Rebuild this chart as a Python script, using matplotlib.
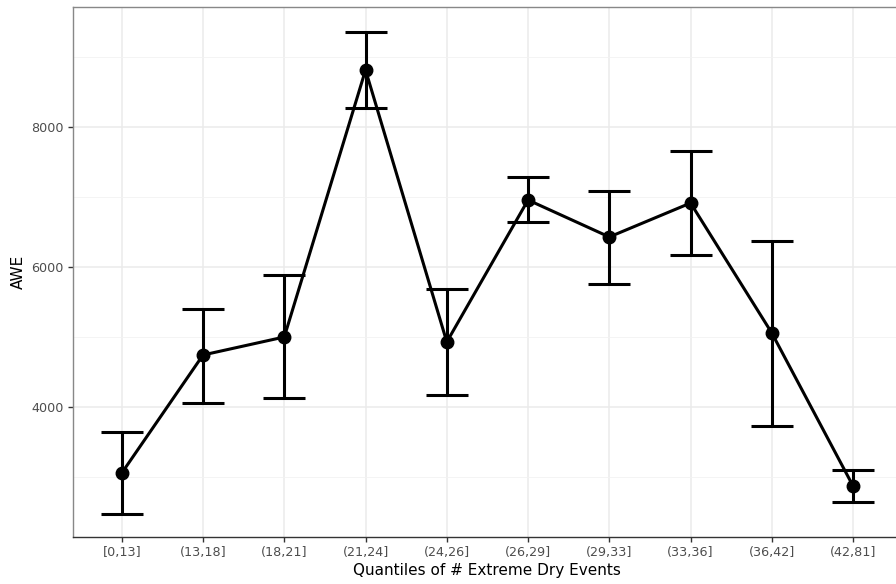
import matplotlib
matplotlib.use("Agg")
from matplotlib import pyplot as plt
from matplotlib.ticker import MultipleLocator

categories = ['[0,13]', '(13,18]', '(18,21]', '(21,24]', '(24,26]',
              '(26,29]', '(29,33]', '(33,36]', '(36,42]', '(42,81]']
awe_mean = [3057, 4743, 5000, 8814, 4929, 6957, 6429, 6914, 5057, 2871]
awe_upper = [3643, 5400, 5886, 9357, 5686, 7286, 7086, 7657, 6371, 3100]
awe_lower = [2471, 4057, 4129, 8271, 4171, 6643, 5757, 6171, 3729, 2643]

x = list(range(1, len(categories) + 1))
err_lo = [m - l for m, l in zip(awe_mean, awe_lower)]
err_hi = [u - m for m, u in zip(awe_mean, awe_upper)]

fig = plt.figure(figsize=(8.96, 5.84), dpi=100)
ax = fig.add_axes([0.0815, 0.0805, 0.925, 0.9075])

ax.errorbar(x, awe_mean, yerr=[err_lo, err_hi], fmt='none', ecolor='black',
            elinewidth=2.2, capsize=14.8, capthick=2.2, zorder=3)
ax.plot(x, awe_mean, color='black', lw=2.2, zorder=4)
ax.plot(x, awe_mean, 'o', color='black', ms=9, zorder=5)

ax.set_xlim(0.4, 10.6)
ax.set_ylim(2143, 9714)
ax.set_xticks(x)
ax.set_xticklabels(categories)
ax.yaxis.set_major_locator(MultipleLocator(2000))
ax.yaxis.set_minor_locator(MultipleLocator(1000))

ax.grid(which='major', color='#ebebeb', lw=1.1, zorder=0)
ax.grid(which='minor', axis='y', color='#f2f2f2', lw=0.6, zorder=0)
ax.set_axisbelow(True)

for s in ax.spines.values():
    s.set_color('#888888')
    s.set_linewidth(1.0)
ax.spines['bottom'].set_color('#333333')

ax.tick_params(axis='both', which='major', length=3.5, width=1.0, color='#333333',
               labelsize=9.2, labelcolor='#4d4d4d', pad=3)
ax.tick_params(axis='y', which='minor', length=0)

ax.set_xlabel('Quantiles of # Extreme Dry Events', fontsize=11, labelpad=3)
ax.set_ylabel('AWE', fontsize=11, labelpad=4)

fig.savefig('out.png', dpi=100)
